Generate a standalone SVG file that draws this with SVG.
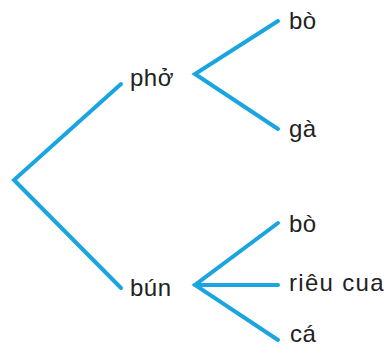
<svg xmlns="http://www.w3.org/2000/svg" width="390" height="347" viewBox="0 0 390 347">
<style>
.lbl{font-family:"Liberation Sans",Arial,sans-serif;font-size:24px;letter-spacing:0.5px;fill:#222;}
.edge{fill:none;stroke:#1BA5E0;stroke-width:4;stroke-linecap:round;stroke-linejoin:miter;}
</style>
<rect width="390" height="347" fill="#fff"/>
<g id="connectors">
<polyline class="edge" points="121,84 14,180 121,288"/>
<polyline class="edge" points="278,21 195,74 278,129"/>
<polyline class="edge" points="278,223 195,285 278,340"/>
<line class="edge" x1="195" y1="285" x2="278" y2="285"/>
</g>
<g id="node-pho"><text class="lbl" x="130" y="86">phở</text></g>
<g id="node-pho-bo"><text class="lbl" x="289" y="29">bò</text></g>
<g id="node-pho-ga"><text class="lbl" x="289" y="137">gà</text></g>
<g id="node-bun"><text class="lbl" x="130" y="296">bún</text></g>
<g id="node-bun-bo"><text class="lbl" x="289" y="232">bò</text></g>
<g id="node-bun-rieucua"><text class="lbl" x="289" y="291" textLength="95">riêu cua</text></g>
<g id="node-bun-ca"><text class="lbl" x="290" y="342">cá</text></g>
</svg>
